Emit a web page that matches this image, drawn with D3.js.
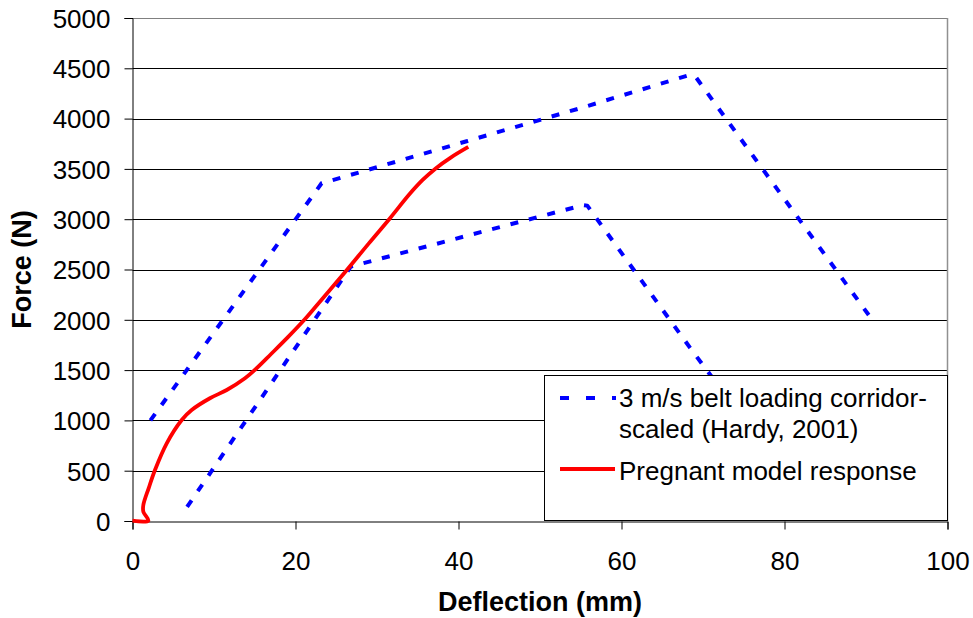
<!DOCTYPE html>
<html>
<head>
<meta charset="utf-8">
<script src="https://cdn.jsdelivr.net/npm/d3@7/dist/d3.min.js"></script>
<style>
  html, body { margin: 0; padding: 0; background: #fff; }
  svg { display: block; font-family: "Liberation Sans", Arial, sans-serif; }
</style>
</head>
<body>
<svg id="chart" width="973" height="618"></svg>
<script>
// Force–deflection data (deflection in mm, force in N)
const upperCorridorX = [2.2, 23.2, 41.0, 55.0, 68.2, 69.0, 90.4];
const upperCorridorY = [1000, 3357, 3775, 4105, 4430, 4425, 2040];

const lowerCorridorX = [6.7, 26.8, 41.4, 55.3, 55.8, 68.4, 72.3];
const lowerCorridorY = [140, 2530, 2843, 3140, 3135, 1723, 1300];

const modelX = [0, 1.94, 1.33, 1.33, 2.0, 2.76, 4.2, 6.04, 7.26, 9.5, 11.56, 13.8, 15.0, 17.0, 19.1, 21.2, 23.2, 26.3, 29.0, 31.6, 34.0, 35.6, 37.2, 39.0, 41.2];
const modelY = [3, 3, 92, 159, 330, 507, 772, 1004, 1103, 1220, 1302, 1419, 1501, 1660, 1830, 2010, 2200, 2495, 2760, 3010, 3250, 3390, 3505, 3610, 3718];

const xTicks = [0, 20, 40, 60, 80, 100];
const yTicks = [0, 500, 1000, 1500, 2000, 2500, 3000, 3500, 4000, 4500, 5000];

const legendLabels = ["3 m/s belt loading corridor-", "scaled (Hardy, 2001)", "Pregnant model response"];

const svg = d3.select("#chart");
const plotLeft = 132.5, plotRight = 947.5, plotTop = 18, plotBottom = 521;

const x = d3.scaleLinear().domain([0, 100]).range([plotLeft, plotRight]);
const y = d3.scaleLinear().domain([0, 5000]).range([plotBottom, plotTop]);

// horizontal gridlines
svg.append("g")
  .selectAll("line")
  .data(yTicks.filter(d => d > 0))
  .join("line")
  .attr("x1", plotLeft).attr("x2", plotRight)
  .attr("y1", d => Math.round(y(d)) + 0.5).attr("y2", d => Math.round(y(d)) + 0.5)
  .attr("stroke", d => d === 5000 ? "#808080" : "#000")
  .attr("stroke-width", 1);

// right plot border
svg.append("line")
  .attr("x1", plotRight).attr("x2", plotRight)
  .attr("y1", plotTop).attr("y2", plotBottom)
  .attr("stroke", "#909090").attr("stroke-width", 1.5);

// axes
const yAxis = d3.axisLeft(y).tickValues(yTicks).tickFormat(d3.format("d")).tickSize(8).tickPadding(14);
const xAxis = d3.axisBottom(x).tickValues(xTicks).tickFormat(d3.format("d")).tickSize(8).tickPadding(22);

const gy = svg.append("g")
  .attr("transform", `translate(${plotLeft},0)`)
  .call(yAxis);
const gx = svg.append("g")
  .attr("transform", `translate(0,${Math.round(plotBottom) + 0.5})`)
  .call(xAxis);

[gx, gy].forEach(g => {
  g.selectAll(".domain").attr("stroke", "#000").attr("stroke-width", 1);
  g.selectAll(".tick line").attr("stroke", "#000");
  g.selectAll(".tick text")
    .attr("font-family", "'Liberation Sans', Arial, sans-serif")
    .attr("font-size", 26)
    .attr("fill", "#000");
});
gy.selectAll(".tick text").attr("dy", "0.36em");

// axis titles
svg.append("text")
  .attr("x", (plotLeft + plotRight) / 2).attr("y", 611)
  .attr("text-anchor", "middle")
  .attr("font-size", 27).attr("font-weight", "bold")
  .text("Deflection (mm)");

svg.append("text")
  .attr("transform", `translate(31,${(plotTop + plotBottom) / 2}) rotate(-90)`)
  .attr("text-anchor", "middle")
  .attr("font-size", 27).attr("font-weight", "bold")
  .text("Force (N)");

// series
const line = d3.line().x(d => x(d[0])).y(d => y(d[1]));
const corridorStyle = sel => sel
  .attr("fill", "none")
  .attr("stroke", "#0000ff")
  .attr("stroke-width", 4)
  .attr("stroke-dasharray", "8,11")
  .attr("stroke-linejoin", "round");

svg.append("path")
  .datum(d3.zip(upperCorridorX, upperCorridorY))
  .attr("d", line)
  .call(corridorStyle);

svg.append("path")
  .datum(d3.zip(lowerCorridorX, lowerCorridorY))
  .attr("d", line)
  .call(corridorStyle);

svg.append("path")
  .datum(d3.zip(modelX, modelY))
  .attr("d", d3.line().x(d => x(d[0])).y(d => y(d[1])).curve(d3.curveCatmullRom.alpha(0.5)))
  .attr("fill", "none")
  .attr("stroke", "#ff0000")
  .attr("stroke-width", 3.8)
  .attr("stroke-linejoin", "round");

// legend
const lg = svg.append("g");
lg.append("rect")
  .attr("x", 544.5).attr("y", 375.5)
  .attr("width", plotRight - 544.5).attr("height", 145)
  .attr("fill", "#fff").attr("stroke", "#000").attr("stroke-width", 1);

lg.append("line")
  .attr("x1", 560).attr("x2", 616).attr("y1", 398).attr("y2", 398)
  .attr("stroke", "#0000ff").attr("stroke-width", 4)
  .attr("stroke-dasharray", "9,17");
lg.append("line")
  .attr("x1", 560).attr("x2", 615).attr("y1", 469).attr("y2", 469)
  .attr("stroke", "#ff0000").attr("stroke-width", 3.8);

lg.selectAll("text")
  .data(legendLabels)
  .join("text")
  .attr("x", 619)
  .attr("y", (d, i) => [407, 438, 480][i])
  .attr("font-size", 26)
  .attr("fill", "#000")
  .text(d => d);
</script>
</body>
</html>
